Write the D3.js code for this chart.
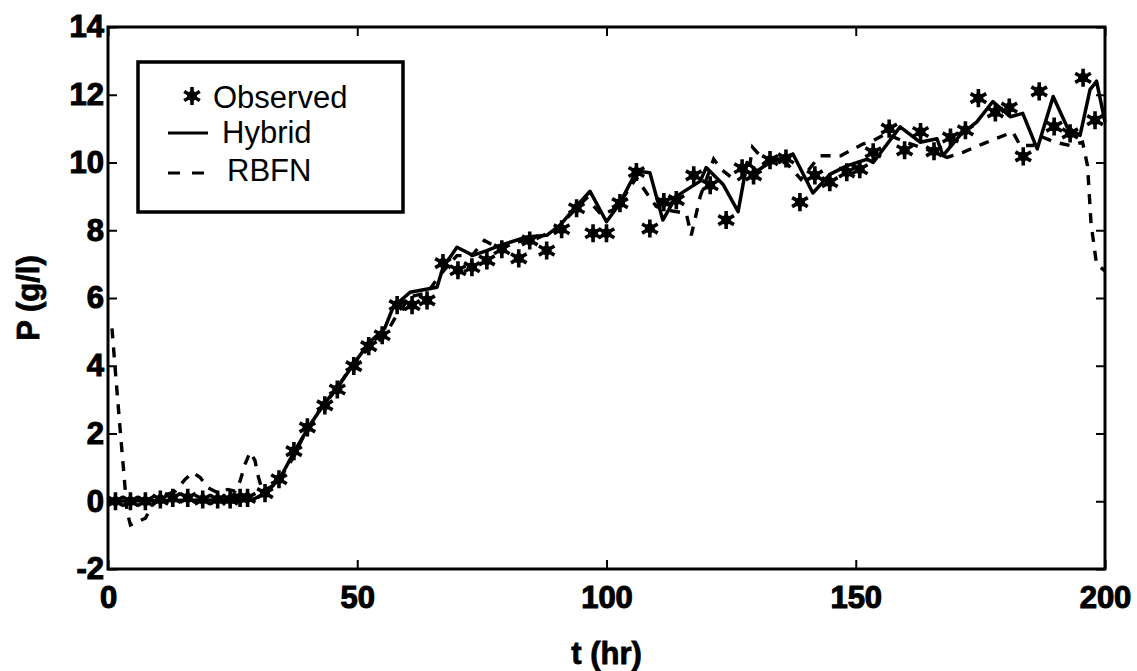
<!DOCTYPE html>
<html lang="en">
<head>
<meta charset="UTF-8">
<title>P vs t</title>
<style>
  body { margin:0; background:#fff; }
  svg { display:block; }
  .tick text { font-family:"Liberation Sans", Arial, sans-serif; font-weight:bold; font-size:31px; fill:#000; stroke:#000; stroke-width:1.1px; }
  .lbl { font-family:"Liberation Sans", Arial, sans-serif; font-weight:bold; font-size:31px; stroke:#000; stroke-width:0.8px; }
  .leg { font-family:"Liberation Sans", Arial, sans-serif; font-size:31px; }
</style>
</head>
<body>
<svg width="1137" height="671"></svg>
<script src="https://cdnjs.cloudflare.com/ajax/libs/d3/7.8.5/d3.min.js"></script>
<script>
// observed points
const obsT = [1.5, 4.5, 7.5, 10.5, 13, 16, 19, 22, 24.5, 26.5, 28, 31.5, 34.3, 37.3, 40, 43.5, 46, 49.3, 52.3, 55, 58, 61, 64, 67.2, 70.2, 73, 76, 79, 82.4, 84.6, 88, 91, 94, 97.3, 100, 102.7, 106, 108.7, 111.5, 114, 117.5, 120.8, 124, 127.2, 129.5, 132.8, 136, 138.8, 141.8, 144.8, 148.2, 150.8, 153.5, 156.7, 159.8, 163, 165.7, 169, 172, 174.6, 178, 180.8, 183.6, 186.8, 189.8, 193, 195.6, 198]
const obsP = [0, 0, 0, 0.05, 0.1, 0.1, 0.05, 0.05, 0.05, 0.1, 0.1, 0.24, 0.65, 1.48, 2.18, 2.83, 3.3, 3.99, 4.58, 4.9, 5.79, 5.79, 5.93, 7.03, 6.82, 6.91, 7.11, 7.44, 7.17, 7.7, 7.4, 8.03, 8.65, 7.91, 7.91, 8.8, 9.72, 8.05, 8.83, 8.89, 9.62, 9.33, 8.3, 9.83, 9.62, 10.07, 10.12, 8.83, 9.62, 9.42, 9.71, 9.8, 10.3, 11.0, 10.36, 10.9, 10.33, 10.74, 10.95, 11.9, 11.48, 11.62, 10.18, 12.1, 11.06, 10.86, 12.5, 11.25]

// hybrid model
const hybT = [0, 29, 31.5, 34.5, 37.5, 40.5, 43.5, 46.5, 49.5, 52.5, 55.5, 57.2, 60.6, 66, 67.2, 70, 73.2, 76, 78.6, 84, 88, 90.7, 93.3, 96.7, 100, 102.7, 106, 108.7, 111.3, 114, 118.8, 120, 123.4, 126.4, 128.2, 130.2, 132.8, 137.4, 141.4, 144.8, 148.2, 152.3, 153.5, 158.9, 162.9, 166.3, 167.5, 170.9, 174.3, 177.5, 181, 183.5, 186.4, 189.6, 192.4, 195, 197, 198.3, 200]
const hybP = [0, 0.05, 0.22, 0.68, 1.5, 2.25, 2.9, 3.45, 4.1, 4.7, 5.1, 5.73, 6.17, 6.32, 6.9, 7.5, 7.26, 7.4, 7.55, 7.8, 7.85, 8.15, 8.6, 9.15, 8.25, 8.8, 9.75, 9.7, 8.3, 9.0, 9.45, 9.85, 9.35, 8.55, 10.0, 9.75, 10.0, 10.25, 9.1, 9.65, 9.9, 10.1, 10.0, 11.05, 10.6, 10.7, 10.2, 10.8, 11.2, 11.8, 11.35, 11.45, 10.4, 11.95, 11.05, 10.8, 12.15, 12.4, 11.2]

// RBFN model
const rbfT = [0.8, 1.5, 2.5, 3.2, 3.8, 4.5, 6, 7.5, 9, 11, 13.5, 15.5, 17, 18.5, 20, 22, 24, 25.5, 26.5, 27.5, 28.5, 29.5, 30, 31, 33, 35, 37, 39, 42, 45, 48, 51, 53.5, 56, 58.5, 61, 64, 67, 70, 73, 75.5, 78, 82, 86, 90, 93, 96, 99, 102, 106, 108.5, 110, 112, 116, 117, 118.8, 121.5, 123, 126, 128.5, 129.3, 132, 136, 139, 142.8, 147, 151.5, 153, 156, 160, 164, 168.3, 171.5, 175.5, 178, 181.5, 183, 185.5, 187.5, 190, 193, 195.5, 196.5, 197.2, 198.3, 200]
const rbfP = [5.1, 3.8, 2.0, 0.8, -0.3, -0.7, -0.6, -0.5, -0.1, 0.15, 0.3, 0.65, 0.85, 0.7, 0.4, 0.25, 0.35, 0.3, 0.6, 1.1, 1.45, 1.2, 0.8, 0.3, 0.45, 0.8, 1.25, 1.85, 2.6, 3.15, 3.8, 4.35, 4.6, 5.0, 5.65, 6.05, 6.15, 6.75, 7.25, 7.25, 7.7, 7.5, 7.65, 7.75, 8.05, 8.5, 8.95, 8.45, 8.65, 9.55, 9.0, 8.7, 8.6, 8.5, 7.85, 9.0, 10.1, 9.8, 9.45, 9.7, 10.45, 10.0, 10.0, 9.5, 10.2, 10.2, 10.55, 10.6, 10.85, 10.6, 10.4, 10.15, 10.3, 10.55, 10.7, 10.9, 10.5, 10.5, 10.75, 10.6, 10.5, 10.6, 9.9, 8.2, 7.0, 6.8]

const xTicks = [0, 50, 100, 150, 200]
const yTicks = [-2, 0, 2, 4, 6, 8, 10, 12, 14]

const svg = d3.select('svg')
const margin = {top: 27, right: 32, bottom: 102, left: 108}
const width = 1137 - margin.left - margin.right
const height = 671 - margin.top - margin.bottom

const g = svg.append('g').attr('transform', `translate(${margin.left},${margin.top})`)

const x = d3.scaleLinear().domain([0, 200]).range([0, width])
const y = d3.scaleLinear().domain([-2, 14]).range([height, 0])

// axes, ticks pointing inward
const styleAxis = sel => {
  sel.select('.domain').remove()
  sel.selectAll('.tick line').attr('stroke', '#000').attr('stroke-width', 2)
}
const plain = d => String(d)
g.append('g').attr('transform', `translate(0,${height})`)
  .call(d3.axisBottom(x).tickValues(xTicks).tickFormat(plain).tickSize(-9).tickPadding(17).tickSizeOuter(0))
  .call(styleAxis)
g.append('g')
  .call(d3.axisLeft(y).tickValues(yTicks).tickFormat(plain).tickSize(-9).tickPadding(4).tickSizeOuter(0))
  .call(styleAxis)
g.append('g')
  .call(d3.axisTop(x).tickValues(xTicks).tickSize(-9).tickFormat('').tickSizeOuter(0))
  .call(styleAxis)
g.append('g').attr('transform', `translate(${width},0)`)
  .call(d3.axisRight(y).tickValues(yTicks).tickSize(-9).tickFormat('').tickSizeOuter(0))
  .call(styleAxis)

g.append('rect')
  .attr('width', width).attr('height', height)
  .attr('fill', 'none').attr('stroke', '#000').attr('stroke-width', 3)

const line = d3.line().x(d => x(d[0])).y(d => y(d[1]))

g.append('path')
  .datum(rbfT.map((t, i) => [t, rbfP[i]]))
  .attr('d', line)
  .attr('fill', 'none').attr('stroke', '#000').attr('stroke-width', 3.4)
  .attr('stroke-dasharray', '10,9')

g.append('path')
  .datum(hybT.map((t, i) => [t, hybP[i]]))
  .attr('d', line)
  .attr('fill', 'none').attr('stroke', '#000').attr('stroke-width', 3.5)
  .attr('stroke-linejoin', 'round')

const star = d3.symbol(d3.symbolAsterisk, 230)

function drawStar(sel) {
  sel.append('path').attr('d', star).attr('fill', 'none').attr('stroke', '#000').attr('stroke-width', 3.6)
  sel.append('circle').attr('r', 5).attr('fill', '#000')
}

g.selectAll('.obs')
  .data(obsT.map((t, i) => [t, obsP[i]]))
  .join('g')
  .attr('class', 'obs')
  .attr('transform', d => `translate(${x(d[0])},${y(d[1])})`)
  .each(function() { drawStar(d3.select(this)) })

// axis labels
svg.append('text').attr('class', 'lbl')
  .attr('x', margin.left + width / 2).attr('y', 664)
  .attr('text-anchor', 'middle').text('t (hr)')
svg.append('text').attr('class', 'lbl')
  .attr('transform', `translate(39,${margin.top + height / 2}) rotate(-90)`)
  .attr('text-anchor', 'middle').text('P (g/l)')

// legend
const leg = svg.append('g')
leg.append('rect')
  .attr('x', 138).attr('y', 62).attr('width', 265).attr('height', 150)
  .attr('fill', '#fff').attr('stroke', '#000').attr('stroke-width', 3.5)
leg.append('g').attr('transform', 'translate(192,96)').call(drawStar)
leg.append('line').attr('x1', 168).attr('x2', 208).attr('y1', 133).attr('y2', 133)
  .attr('stroke', '#000').attr('stroke-width', 3.2)
leg.append('line').attr('x1', 168).attr('x2', 205).attr('y1', 173).attr('y2', 173)
  .attr('stroke', '#000').attr('stroke-width', 3.2).attr('stroke-dasharray', '12,12')
leg.append('text').attr('class', 'leg').attr('x', 213).attr('y', 108).text('Observed')
leg.append('text').attr('class', 'leg').attr('x', 222).attr('y', 143).text('Hybrid')
leg.append('text').attr('class', 'leg').attr('x', 227).attr('y', 181).text('RBFN')
</script>
</body>
</html>
